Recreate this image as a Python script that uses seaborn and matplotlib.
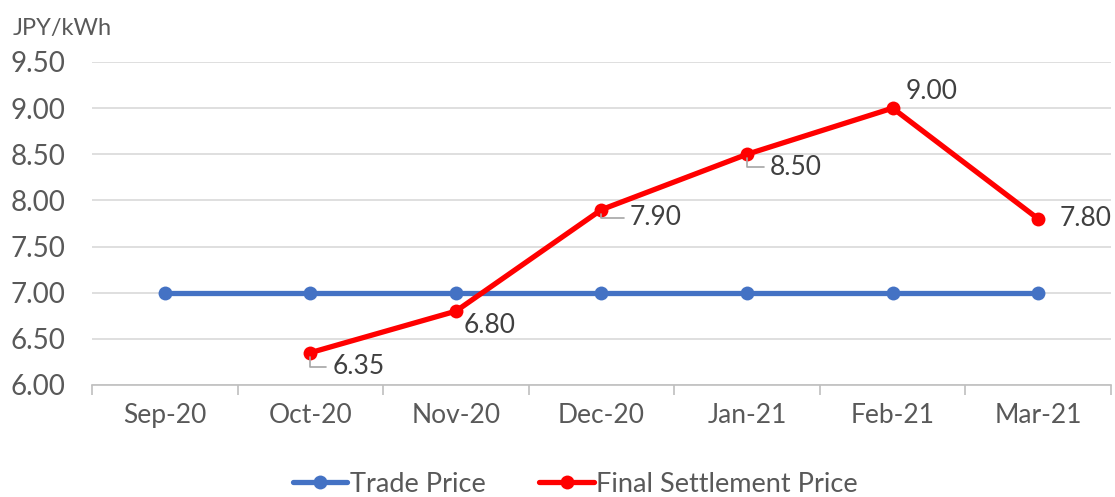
import matplotlib
matplotlib.use("Agg")
import matplotlib.pyplot as plt
import seaborn as sns
import pandas as pd
from matplotlib.ticker import FixedLocator, FormatStrFormatter

months = ["Sep-20", "Oct-20", "Nov-20", "Dec-20", "Jan-21", "Feb-21", "Mar-21"]
trade_price = [7.00, 7.00, 7.00, 7.00, 7.00, 7.00, 7.00]
settle_months = ["Oct-20", "Nov-20", "Dec-20", "Jan-21", "Feb-21", "Mar-21"]
settle_price = [6.35, 6.80, 7.90, 8.50, 9.00, 7.80]

sns.set_theme(style="white")
plt.rcParams['font.family'] = ['Lato', 'DejaVu Sans']

pos = {m: i for i, m in enumerate(months)}
df = pd.concat([
    pd.DataFrame({"x": [pos[m] for m in months], "y": trade_price, "s": "Trade Price"}),
    pd.DataFrame({"x": [pos[m] for m in settle_months], "y": settle_price, "s": "Final Settlement Price"}),
])

fig = plt.figure(figsize=(11.15, 4.97), dpi=100)
ax = fig.add_axes([0.0825, 0.2254, 0.9139, 0.6499])

sns.lineplot(data=df, x="x", y="y", hue="s", palette={"Trade Price": "#4472C4", "Final Settlement Price": "#FF0000"},
             marker="o", markersize=10, markeredgewidth=0, linewidth=3.8, ax=ax)

ax.set_xlim(-0.5, 6.5)
ax.set_ylim(6.0, 9.5)
ax.set_xticks(range(len(months)))
ax.set_xticklabels(months)
ax.xaxis.set_minor_locator(FixedLocator([i + 0.5 for i in range(-1, 7)]))
ax.tick_params(axis="x", which="major", length=0, pad=13, labelsize=19, labelcolor="#595959")
ax.tick_params(axis="x", which="minor", length=7, width=1.2, color="#BFBFBF", bottom=True)
ax.set_yticks([6.0 + 0.5 * i for i in range(8)])
ax.yaxis.set_major_formatter(FormatStrFormatter("%.2f"))
ax.tick_params(axis="y", length=0, pad=19, labelsize=20, labelcolor="#595959")
ax.grid(axis="y", color="#D9D9D9", linewidth=1.2)
ax.set_axisbelow(True)
for s in ["top", "right", "left"]:
    ax.spines[s].set_visible(False)
ax.spines["bottom"].set_color("#BFBFBF")
ax.spines["bottom"].set_linewidth(1.2)
ax.set_xlabel("")
ax.set_ylabel("")

offsets = [(34.5, -10, True), (24.5, -10, False), (39, -6, True), (35, -9.4, True), (28, 12, False), (34, 0, False)]
for m, v, (dx, dy, lead) in zip(settle_months, settle_price, offsets):
    kw = {}
    if lead:
        kw["arrowprops"] = dict(arrowstyle="-", color="#A6A6A6", lw=1.2,
                                connectionstyle="angle,angleA=0,angleB=90,rad=0", shrinkA=2, shrinkB=3)
    ax.annotate(f"{v:.2f}", xy=(pos[m], v), xytext=(dx, dy), textcoords="offset points",
                ha="center", va="center", fontsize=19, color="#404040", **kw)

fig.text(0.011, 0.942, "JPY/kWh", fontsize=17, color="#595959", ha="left", va="center")

h, l = ax.get_legend_handles_labels()
ax.legend(h, l, loc="center", bbox_to_anchor=(0.516, 0.026), bbox_transform=fig.transFigure, ncol=2,
          frameon=False, fontsize=19.5, handlelength=2.0, handletextpad=0.1, columnspacing=2.0,
          labelcolor="#595959")

fig.savefig("out.png", dpi=100)
